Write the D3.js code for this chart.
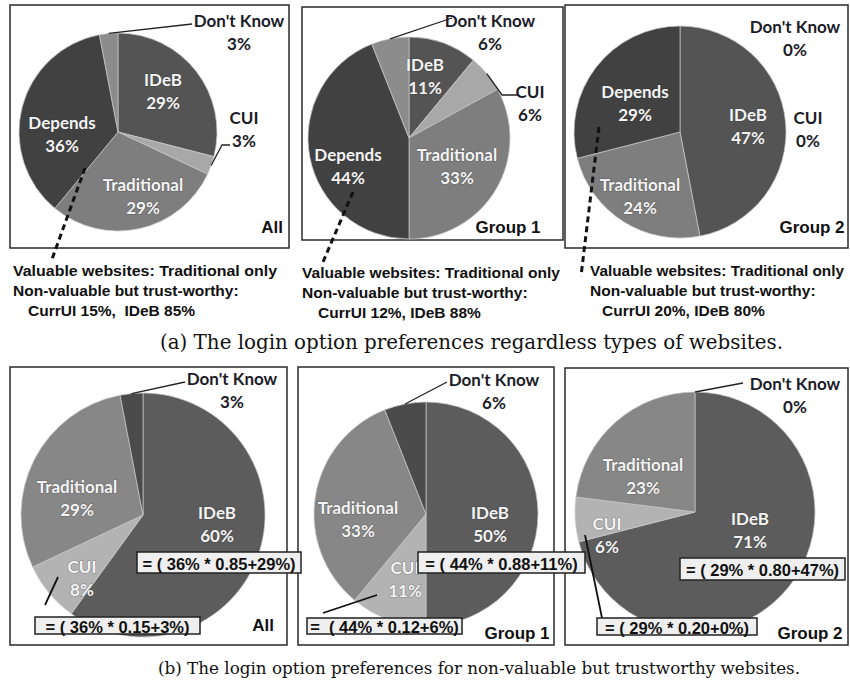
<!DOCTYPE html>
<html><head><meta charset="utf-8">
<script src="https://cdn.jsdelivr.net/npm/d3@7"></script>
<style>body{margin:0;background:#fff} svg{display:block}</style>
</head><body>
<svg id="chart" width="850" height="683"></svg>
<script>
// ---------- data ----------
const topCategories = ["IDeB", "CUI", "Traditional", "Depends", "Don't Know"];
const topAll = [29, 3, 29, 36, 3];
const topGroup1 = [11, 6, 33, 44, 6];
const topGroup2 = [47, 0, 24, 29, 0];
const bottomCategories = ["IDeB", "CUI", "Traditional", "Don't Know"];
const bottomAll = [60, 8, 29, 3];
const bottomGroup1 = [50, 11, 33, 6];
const bottomGroup2 = [71, 6, 23, 0];
const panelTitles = ["All", "Group 1", "Group 2"];
const notesAll = ["Valuable websites: Traditional only", "Non-valuable but trust-worthy:", "CurrUI 15%,  IDeB 85%"];
const notesGroup1 = ["Valuable websites: Traditional only", "Non-valuable but trust-worthy:", "CurrUI 12%, IDeB 88%"];
const notesGroup2 = ["Valuable websites: Traditional only", "Non-valuable but trust-worthy:", "CurrUI 20%, IDeB 80%"];
const formulasAll = ["= ( 36% * 0.85+29%)", "= ( 36% * 0.15+3%)"];
const formulasGroup1 = ["= ( 44% * 0.88+11%)", "=  ( 44% * 0.12+6%)"];
const formulasGroup2 = ["= ( 29% * 0.80+47%)", "= ( 29% * 0.20+0%)"];
const captionA = "(a) The login option preferences regardless types of websites.";
const captionB = "(b) The login option preferences for non-valuable but trustworthy websites.";

// ---------- styles ----------
const topColors = {"IDeB": "#545454", "CUI": "#a8a8a8", "Traditional": "#7e7e7e", "Depends": "#414141", "Don't Know": "#8c8c8c"};
const bottomColors = {"IDeB": "#5c5c5c", "CUI": "#b3b3b3", "Traditional": "#878787", "Don't Know": "#4b4b4b"};
const inside = {"IDeB": 1, "Traditional": 1, "Depends": 1};
const labelFont = "Lato, 'Open Sans', sans-serif";
const armFont = "'Liberation Sans', Arial, sans-serif";

// ---------- layout ----------
const topPanels = [
  {values: topAll, title: 0, notes: notesAll, box: [10, 5, 289, 248], c: [118, 132], r: 99,
   labels: {"IDeB": [163, 91], "CUI": [244, 129], "Traditional": [143, 196], "Depends": [62, 134], "Don't Know": [239, 32]},
   leaders: {"Don't Know": [[192, 24]], "CUI": [[222, 145], [230, 145]]},
   titlePos: [272, 227], notePos: [13, 270], note3x: 28, noteW: 264, dash: [[85, 168], [51, 262]]},
  {values: topGroup1, title: 1, notes: notesGroup1, box: [302, 7, 563, 240], c: [409, 138], r: 101,
   labels: {"IDeB": [425, 76], "CUI": [530, 103], "Traditional": [457, 166], "Depends": [348, 166], "Don't Know": [490, 32]},
   leaders: {"Don't Know": [[452, 18]], "CUI": [[502, 95], [518, 95]]},
   titlePos: [508, 227], notePos: [302, 272], note3x: 318, noteW: 258, dash: [[353, 192], [323, 262]]},
  {values: topGroup2, title: 2, notes: notesGroup2, box: [565, 5, 848, 248], c: [680, 132], r: 106,
   labels: {"IDeB": [748, 126], "CUI": [808, 129], "Traditional": [640, 196], "Depends": [635, 103], "Don't Know": [795, 38]},
   leaders: {},
   titlePos: [812, 227], notePos: [590, 270], note3x: 602, noteW: 254, dash: [[599, 127], [581, 276]]}
];
const bottomPanels = [
  {values: bottomAll, title: 0, formulas: formulasAll, box: [10, 367, 287, 645], c: [143, 515], r: 122,
   labels: {"IDeB": [217, 524], "CUI": [82, 578], "Traditional": [77, 498], "Don't Know": [232, 390]},
   leaders: {"Don't Know": [[185, 382]]}, cuiLine: [[58, 577], [45, 605]],
   boxes: [[137, 552, 301, 573], [35, 617, 200, 634]], titlePos: [263, 625]},
  {values: bottomGroup1, title: 1, formulas: formulasGroup1, box: [298, 367, 554, 645], c: [426, 514], r: 112,
   labels: {"IDeB": [490, 524], "CUI": [405, 579], "Traditional": [358, 519], "Don't Know": [494, 391]},
   leaders: {"Don't Know": [[447, 382]]}, cuiLine: [[377, 595], [323, 613]],
   boxes: [[418, 552, 585, 573], [307, 618, 462, 634]], titlePos: [517, 633]},
  {values: bottomGroup2, title: 2, formulas: formulasGroup2, box: [565, 368, 848, 645], c: [695, 512], r: 120,
   labels: {"IDeB": [750, 530], "CUI": [607, 535], "Traditional": [643, 476], "Don't Know": [795, 395]},
   leaders: {"Don't Know": [[743, 383]]}, cuiLine: [[585, 535], [602, 618]],
   boxes: [[680, 558, 845, 580], [597, 618, 757, 635]], titlePos: [810, 633]}
];

const svg = d3.select("#chart");
const pie = d3.pie().sort(null).value(d => d.v);

function drawPie(p, categories, colors) {
  const g = svg.append("g");
  const [x0, y0, x1, y1] = p.box;
  g.append("rect").attr("x", x0).attr("y", y0).attr("width", x1 - x0).attr("height", y1 - y0)
    .attr("fill", "#fff").attr("stroke", "#2a2a2a").attr("stroke-width", 1.5);
  const data = categories.map((k, i) => ({k, v: p.values[i]}));
  const arcs = pie(data);
  const arc = d3.arc().innerRadius(0).outerRadius(p.r);
  const pg = g.append("g").attr("transform", `translate(${p.c[0]},${p.c[1]})`);
  pg.selectAll("path").data(arcs.filter(a => a.data.v > 0)).join("path")
    .attr("d", arc).attr("fill", a => colors[a.data.k])
    .attr("stroke", "#c8c8c8").attr("stroke-width", 0.7);
  // leader lines
  arcs.forEach(a => {
    const pts = p.leaders[a.data.k];
    if (!pts) return;
    const m = (a.startAngle + a.endAngle) / 2;
    const start = [p.c[0] + p.r * Math.sin(m), p.c[1] - p.r * Math.cos(m)];
    g.append("path").attr("d", d3.line()([start, ...pts])).attr("fill", "none")
      .attr("stroke", "#222").attr("stroke-width", 1.3);
  });
  // labels
  arcs.forEach(a => {
    const pos = p.labels[a.data.k];
    const isIn = inside[a.data.k] || (a.data.k === "CUI" && categories.length === 4);
    const t = g.append("text").attr("x", pos[0]).attr("y", pos[1]).attr("text-anchor", "middle")
      .attr("font-family", labelFont).attr("font-weight", 700).attr("font-size", 17)
      .attr("fill", isIn ? "#f4f4f4" : "#1c1c28");
    if (isIn) t.attr("style", "paint-order:stroke").attr("stroke", "rgba(40,40,40,0.35)").attr("stroke-width", 1.2);
    t.append("tspan").attr("x", pos[0]).attr("dy", "-0.32em").text(a.data.k);
    t.append("tspan").attr("x", pos[0]).attr("dy", "1.35em").text(a.data.v + "%");
  });
  g.append("text").attr("x", p.titlePos[0]).attr("y", p.titlePos[1]).attr("text-anchor", "middle")
    .attr("dominant-baseline", "central").attr("font-family", armFont).attr("font-weight", 700)
    .attr("font-size", 17).attr("fill", "#111").text(panelTitles[p.title]);
  return g;
}

topPanels.forEach(p => {
  drawPie(p, topCategories, topColors);
  svg.append("path").attr("d", d3.line()(p.dash)).attr("fill", "none").attr("stroke", "#111")
    .attr("stroke-width", 3).attr("stroke-dasharray", "6,4");
  p.notes.forEach((s, i) => {
    const t = svg.append("text").attr("x", i === 2 ? p.note3x : p.notePos[0]).attr("y", p.notePos[1] + i * 20)
      .attr("dominant-baseline", "central").attr("font-family", armFont).attr("font-weight", 700)
      .attr("font-size", 15.5).attr("fill", "#111").style("white-space", "pre").text(s);
    if (i === 0) t.attr("textLength", p.noteW).attr("lengthAdjust", "spacingAndGlyphs");
  });
});

bottomPanels.forEach(p => {
  const g = drawPie(p, bottomCategories, bottomColors);
  g.append("path").attr("d", d3.line()(p.cuiLine)).attr("stroke", "#111").attr("stroke-width", 1.8);
});
// formula boxes drawn above all panels
bottomPanels.forEach(p => {
  p.boxes.forEach((b, i) => {
    svg.append("rect").attr("x", b[0]).attr("y", b[1]).attr("width", b[2] - b[0]).attr("height", b[3] - b[1])
      .attr("fill", "#efefef").attr("stroke", "#222").attr("stroke-width", 1.5);
    svg.append("text").attr("x", (b[0] + b[2]) / 2).attr("y", (b[1] + b[3]) / 2 + 1).attr("text-anchor", "middle")
      .attr("dominant-baseline", "central").attr("font-family", armFont).attr("font-weight", 700)
      .attr("font-size", 16.5).attr("fill", "#111").style("white-space", "pre").text(p.formulas[i]);
  });
});

[[captionA, 160, 342, 623, 19.5], [captionB, 158, 668, 642, 17]].forEach(([s, x, y, w, fs]) => {
  svg.append("text").attr("x", x).attr("y", y).attr("dominant-baseline", "central")
    .attr("font-family", "'DejaVu Serif', 'Liberation Serif', serif").attr("font-size", fs)
    .attr("textLength", w).attr("lengthAdjust", "spacingAndGlyphs")
    .attr("fill", "#111").text(s);
});
</script>
</body></html>
